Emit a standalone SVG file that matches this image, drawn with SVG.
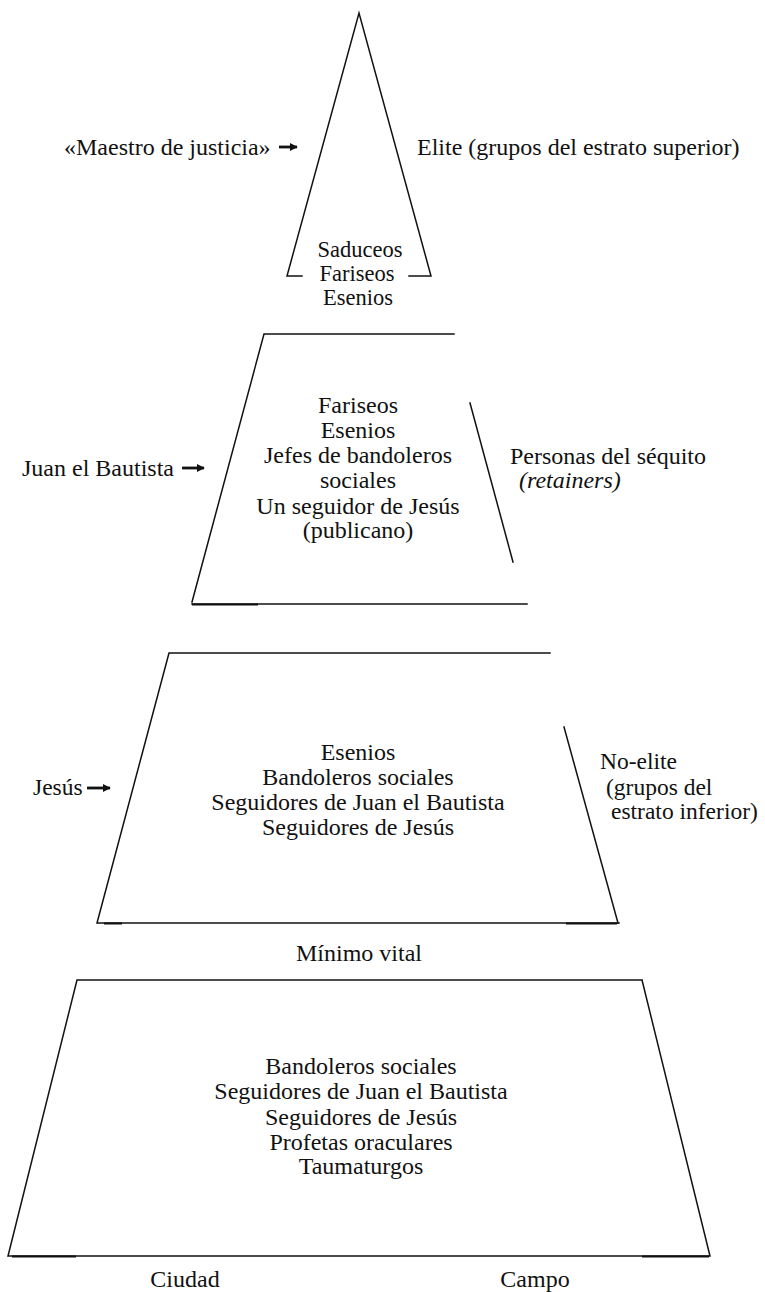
<svg xmlns="http://www.w3.org/2000/svg" width="765" height="1292" viewBox="0 0 765 1292">
<defs>
<style>
.t{font-family:"Liberation Serif","Times New Roman",serif;font-size:24px;fill:#111;}
.c{text-anchor:middle;}
.g{font-family:"Liberation Serif","Times New Roman",serif;font-size:22.5px;fill:#111;}
.h{font-family:"Liberation Serif","Times New Roman",serif;font-size:23.5px;fill:#111;}
.i{font-style:italic;}
.ln{fill:none;stroke:#111;stroke-width:1.5;stroke-linecap:square;}
.tk{fill:none;stroke:#111;stroke-width:2.2;}
.ar{fill:none;stroke:#111;stroke-width:2.8;}
</style>
<marker id="ah" viewBox="0 0 10 10" refX="9" refY="5" markerWidth="2.8" markerHeight="2.8" orient="auto" markerUnits="strokeWidth">
<path d="M0,0 L10,5 L0,10 z" fill="#111"/>
</marker>
</defs>
<rect width="765" height="1292" fill="#fff"/>

<g id="estrato-superior">
<path class="ln" d="M302,276 L287,276 L359,13 L431,276 L409,276"/>
<text class="g c" x="360" y="257">Saduceos</text>
<text class="g c" x="357" y="281">Fariseos</text>
<text class="g c" x="358" y="305">Esenios</text>
</g>

<g id="retainers">
<path class="ln" d="M454,334 L264,334 L192,602"/>
<path class="ln" d="M192,604 L527,604"/>
<path class="tk" d="M192,604.5 L258,604.5"/>
<path class="ln" d="M470,403 L513,562"/>
<text class="t c" x="358" y="413">Fariseos</text>
<text class="t c" x="358" y="438">Esenios</text>
<text class="t c" x="358" y="463">Jefes de bandoleros</text>
<text class="t c" x="358" y="488">sociales</text>
<text class="t c" x="358" y="514">Un seguidor de Jesús</text>
<text class="t c" x="358" y="538">(publicano)</text>
</g>

<g id="no-elite">
<path class="ln" d="M550,653 L169,653 L97,923 L619,923"/>
<path class="ln" d="M564,727 L618,923"/>
<path class="tk" d="M104,923.5 L122,923.5 M566,923.5 L617,923.5"/>
<text class="t c" x="358" y="760">Esenios</text>
<text class="t c" x="358" y="785">Bandoleros sociales</text>
<text class="t c" x="358" y="810">Seguidores de Juan el Bautista</text>
<text class="t c" x="358" y="835">Seguidores de Jesús</text>
</g>

<g id="bajo-minimo">
<path class="ln" d="M642,980 L77,980 L8,1256 L710,1256 L642,980"/>
<path class="tk" d="M12,1256.5 L76,1256.5 M642,1256.5 L709,1256.5"/>
<text class="t c" x="361" y="1074">Bandoleros sociales</text>
<text class="t c" x="361" y="1099">Seguidores de Juan el Bautista</text>
<text class="t c" x="361" y="1125">Seguidores de Jesús</text>
<text class="t c" x="361" y="1150">Profetas oraculares</text>
<text class="t c" x="361" y="1174">Taumaturgos</text>
</g>

<g id="labels">
<text class="t" x="64" y="155">«Maestro de justicia»</text>
<text class="t" x="417" y="155">Elite (grupos del estrato superior)</text>
<text class="t" x="22" y="476">Juan el Bautista</text>
<text class="t" x="510" y="464">Personas del séquito</text>
<text class="t i" x="519" y="488">(retainers)</text>
<text class="h" x="33" y="795">Jesús</text>
<text class="h" x="600" y="769">No-elite</text>
<text class="h" x="606" y="795">(grupos del</text>
<text class="h" x="611" y="819">estrato inferior)</text>
<text class="t c" x="359" y="961">Mínimo vital</text>
<text class="t c" x="185" y="1287">Ciudad</text>
<text class="t c" x="535" y="1287">Campo</text>
</g>

<g id="connectors">
<path class="ar" d="M279,147 L297,147" marker-end="url(#ah)"/>
<path class="ar" d="M182,468 L204,468" marker-end="url(#ah)"/>
<path class="ar" d="M87,788 L110,788" marker-end="url(#ah)"/>
</g>
</svg>
